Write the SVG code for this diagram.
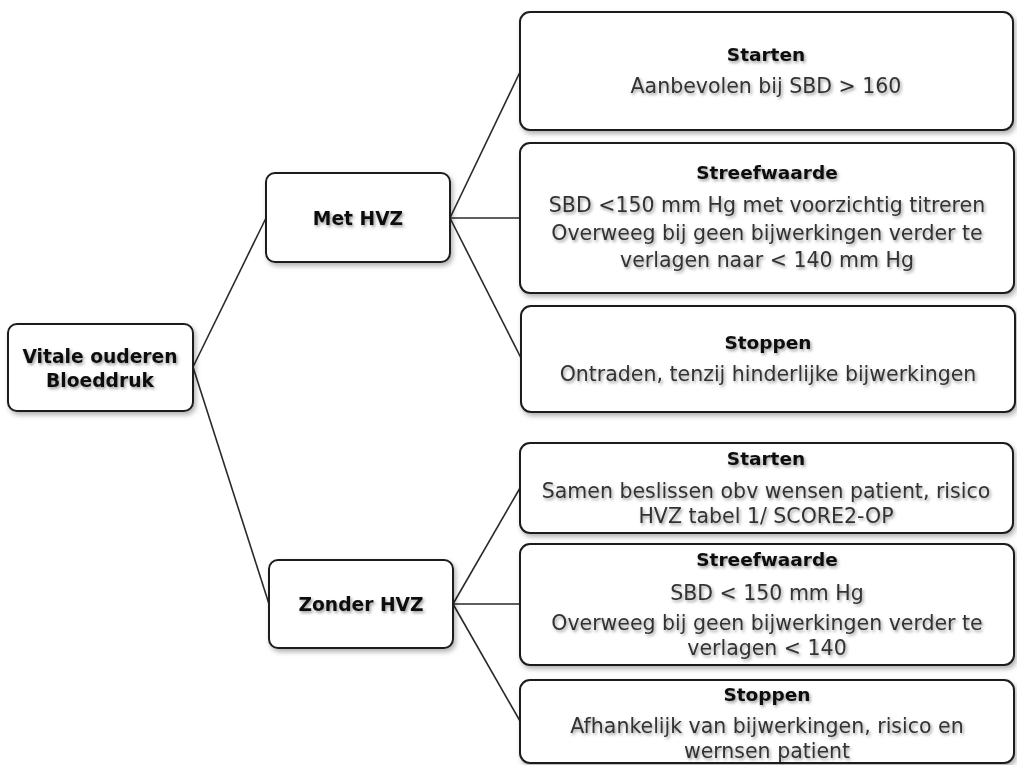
<svg xmlns="http://www.w3.org/2000/svg" width="1017" height="765" viewBox="0 0 1017 765">
  <defs>
    <filter id="boxShadow" x="-5%" y="-10%" width="115%" height="130%">
      <feDropShadow dx="2" dy="3" stdDeviation="2.5" flood-color="#000" flood-opacity="0.3"/>
    </filter>
    <filter id="textShadow" x="-10%" y="-40%" width="120%" height="180%">
      <feDropShadow dx="1.5" dy="2" stdDeviation="1.6" flood-color="#000" flood-opacity="0.38"/>
    </filter>
  </defs>
  <style>
    .box { fill: #ffffff; stroke: #1e1e1e; stroke-width: 2; filter: url(#boxShadow); }
    .edge { stroke: #2a2a2a; stroke-width: 1.6; fill: none; }
    text { font-family: "DejaVu Sans", "Liberation Sans", sans-serif; text-anchor: middle; filter: url(#textShadow); }
    .head { font-weight: bold; font-size: 18.7px; fill: #111; }
    .title { font-weight: bold; font-size: 18.5px; fill: #111; }
    .body { font-size: 20.5px; fill: #333; }
  </style>
  <rect width="1017" height="765" fill="#ffffff"/>

  <!-- connectors -->
  <g id="connectors">
    <line class="edge" x1="193" y1="367" x2="266" y2="218"/>
    <line class="edge" x1="193" y1="367" x2="269" y2="604"/>
    <line class="edge" x1="450" y1="218" x2="520" y2="72"/>
    <line class="edge" x1="450" y1="218" x2="520" y2="218"/>
    <line class="edge" x1="450" y1="218" x2="521" y2="358"/>
    <line class="edge" x1="453" y1="604" x2="520" y2="488"/>
    <line class="edge" x1="453" y1="604" x2="520" y2="604"/>
    <line class="edge" x1="453" y1="604" x2="520" y2="721"/>
  </g>

  <!-- root -->
  <g id="root">
    <rect class="box" x="8" y="324" width="185" height="87" rx="9"/>
    <text class="head" x="100" y="363">Vitale ouderen</text>
    <text class="head" x="100" y="387">Bloeddruk</text>
  </g>

  <!-- first level -->
  <g id="met-hvz">
    <rect class="box" x="266" y="173" width="184" height="89" rx="9"/>
    <text class="head" x="358" y="225">Met HVZ</text>
  </g>
  <g id="zonder-hvz">
    <rect class="box" x="269" y="560" width="184" height="88" rx="9"/>
    <text class="head" x="361" y="611">Zonder HVZ</text>
  </g>

  <!-- met HVZ branch -->
  <g id="met-starten">
    <rect class="box" x="520" y="12" width="493" height="118" rx="10"/>
    <text class="title" x="766" y="61">Starten</text>
    <text class="body" x="766" y="93">Aanbevolen bij SBD &gt; 160</text>
  </g>
  <g id="met-streefwaarde">
    <rect class="box" x="520" y="143" width="494" height="150" rx="10"/>
    <text class="title" x="767" y="179">Streefwaarde</text>
    <text class="body" x="767" y="212">SBD &lt;150 mm Hg met voorzichtig titreren</text>
    <text class="body" x="767" y="240">Overweeg bij geen bijwerkingen verder te</text>
    <text class="body" x="767" y="267">verlagen naar &lt; 140 mm Hg</text>
  </g>
  <g id="met-stoppen">
    <rect class="box" x="521" y="306" width="494" height="106" rx="10"/>
    <text class="title" x="768" y="349">Stoppen</text>
    <text class="body" x="768" y="381">Ontraden, tenzij hinderlijke bijwerkingen</text>
  </g>

  <!-- zonder HVZ branch -->
  <g id="zonder-starten">
    <rect class="box" x="520" y="443" width="493" height="90" rx="10"/>
    <text class="title" x="766" y="465">Starten</text>
    <text class="body" x="766" y="498">Samen beslissen obv wensen patient, risico</text>
    <text class="body" x="766" y="523">HVZ tabel 1/ SCORE2-OP</text>
  </g>
  <g id="zonder-streefwaarde">
    <rect class="box" x="520" y="544" width="494" height="121" rx="10"/>
    <text class="title" x="767" y="566">Streefwaarde</text>
    <text class="body" x="767" y="600">SBD &lt; 150 mm Hg</text>
    <text class="body" x="767" y="630">Overweeg bij geen bijwerkingen verder te</text>
    <text class="body" x="767" y="655">verlagen &lt; 140</text>
  </g>
  <g id="zonder-stoppen">
    <rect class="box" x="520" y="680" width="494" height="83" rx="10"/>
    <text class="title" x="767" y="701">Stoppen</text>
    <text class="body" x="767" y="733">Afhankelijk van bijwerkingen, risico en</text>
    <text class="body" x="767" y="758">wernsen patient</text>
  </g>
</svg>
